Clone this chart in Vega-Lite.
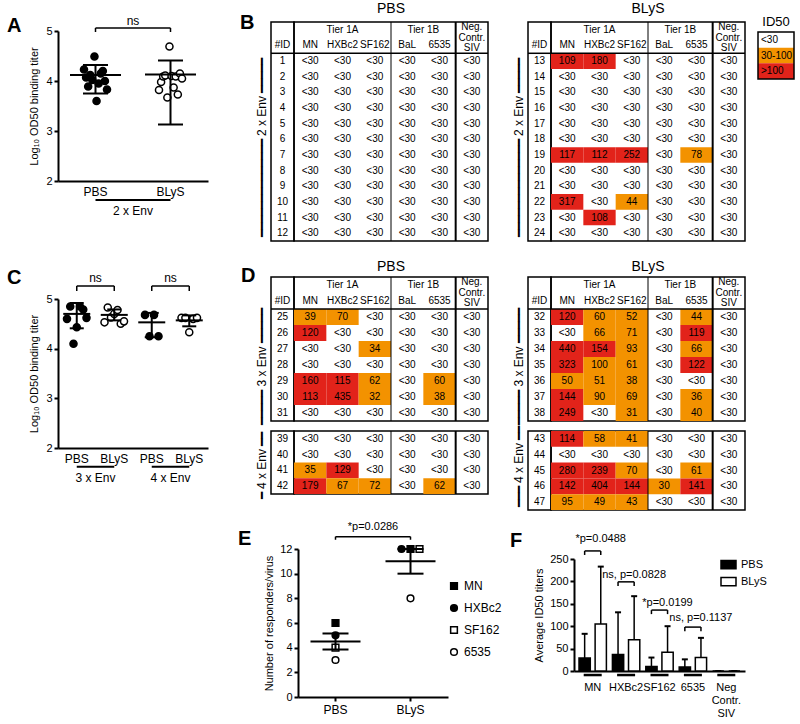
{
"$schema": "https://vega.github.io/schema/vega-lite/v6.json",
"padding": {"left": 7, "top": 1, "right": 2, "bottom": 2},
"background": "white",
"config": {
  "font": "Liberation Sans",
  "view": {"stroke": null},
  "axis": {"domainColor": "black", "domainWidth": 2, "tickColor": "black", "tickWidth": 2, "tickSize": 4, "labelColor": "black", "titleColor": "black", "titleFontWeight": "normal", "grid": false, "labelFontSize": 11, "titleFontSize": 11, "labelPadding": 2, "labelOverlap": false},
  "title": {"color": "black", "fontWeight": "normal", "fontSize": 14, "baseline": "alphabetic"},
  "legend": {"padding": 0, "labelColor": "black"}
},
"resolve": {"scale": {"fill": "independent", "shape": "independent", "xOffset": "independent", "color": "independent"}, "legend": {"fill": "independent", "shape": "independent"}},
"datasets": {
  "a": [
    {"grp":"PBS","id":"1","od":4.23},{"grp":"PBS","id":"2","od":4.07},{"grp":"PBS","id":"3","od":3.89},{"grp":"PBS","id":"4","od":4.12},{"grp":"PBS","id":"5","od":4.02},{"grp":"PBS","id":"6","od":4.49},{"grp":"PBS","id":"7","od":3.60},{"grp":"PBS","id":"8","od":3.95},{"grp":"PBS","id":"9","od":4.15},{"grp":"PBS","id":"10","od":4.20},{"grp":"PBS","id":"11","od":4.00},{"grp":"PBS","id":"12","od":3.83},
    {"grp":"BLyS","id":"13","od":3.82},{"grp":"BLyS","id":"14","od":3.98},{"grp":"BLyS","id":"15","od":4.09},{"grp":"BLyS","id":"16","od":4.11},{"grp":"BLyS","id":"17","od":3.67},{"grp":"BLyS","id":"18","od":4.69},{"grp":"BLyS","id":"19","od":4.10},{"grp":"BLyS","id":"20","od":3.87},{"grp":"BLyS","id":"21","od":4.09},{"grp":"BLyS","id":"22","od":3.73},{"grp":"BLyS","id":"23","od":4.15},{"grp":"BLyS","id":"24","od":4.05}
  ],
  "aSum": [{"grp":"PBS","mean":4.12,"lo":3.75,"hi":4.32},{"grp":"BLyS","mean":4.13,"lo":3.13,"hi":4.41}],
  "c": [
    {"grp":"3PBS","id":"25","od":4.60},{"grp":"3PBS","id":"26","od":4.85},{"grp":"3PBS","id":"27","od":4.10},{"grp":"3PBS","id":"28","od":4.43},{"grp":"3PBS","id":"29","od":4.85},{"grp":"3PBS","id":"30","od":4.79},{"grp":"3PBS","id":"31","od":4.62},
    {"grp":"3BLyS","id":"32","od":4.53},{"grp":"3BLyS","id":"33","od":4.83},{"grp":"3BLyS","id":"34","od":4.63},{"grp":"3BLyS","id":"35","od":4.70},{"grp":"3BLyS","id":"36","od":4.78},{"grp":"3BLyS","id":"37","od":4.50},{"grp":"3BLyS","id":"38","od":4.55},
    {"grp":"4PBS","id":"39","od":4.68},{"grp":"4PBS","id":"40","od":4.25},{"grp":"4PBS","id":"41","od":4.68},{"grp":"4PBS","id":"42","od":4.25},
    {"grp":"4BLyS","id":"43","od":4.62},{"grp":"4BLyS","id":"44","od":4.62},{"grp":"4BLyS","id":"45","od":4.33},{"grp":"4BLyS","id":"46","od":4.60},{"grp":"4BLyS","id":"47","od":4.62}
  ],
  "cSum": [{"grp":"3PBS","mean":4.70,"lo":4.41,"hi":4.92},{"grp":"3BLyS","mean":4.68,"lo":4.57,"hi":4.79},{"grp":"4PBS","mean":4.53,"lo":4.23,"hi":4.72},{"grp":"4BLyS","mean":4.57,"lo":4.45,"hi":4.67}],
  "hdr": [{"virus":"HXBc2","row":"h1","label":"Tier 1A"},{"virus":"MN","row":"h2","label":"MN"},{"virus":"HXBc2","row":"h2","label":"HXBc2"},{"virus":"SF162","row":"h2","label":"SF162"},{"virus":"BaL","row":"h2","label":"BaL"},{"virus":"6535","row":"h2","label":"6535"}],
  "bP": [
    {"id":"1","MN":"<30","HXBc2":"<30","SF162":"<30","BaL":"<30","6535":"<30","SIV":"<30"},
    {"id":"2","MN":"<30","HXBc2":"<30","SF162":"<30","BaL":"<30","6535":"<30","SIV":"<30"},
    {"id":"3","MN":"<30","HXBc2":"<30","SF162":"<30","BaL":"<30","6535":"<30","SIV":"<30"},
    {"id":"4","MN":"<30","HXBc2":"<30","SF162":"<30","BaL":"<30","6535":"<30","SIV":"<30"},
    {"id":"5","MN":"<30","HXBc2":"<30","SF162":"<30","BaL":"<30","6535":"<30","SIV":"<30"},
    {"id":"6","MN":"<30","HXBc2":"<30","SF162":"<30","BaL":"<30","6535":"<30","SIV":"<30"},
    {"id":"7","MN":"<30","HXBc2":"<30","SF162":"<30","BaL":"<30","6535":"<30","SIV":"<30"},
    {"id":"8","MN":"<30","HXBc2":"<30","SF162":"<30","BaL":"<30","6535":"<30","SIV":"<30"},
    {"id":"9","MN":"<30","HXBc2":"<30","SF162":"<30","BaL":"<30","6535":"<30","SIV":"<30"},
    {"id":"10","MN":"<30","HXBc2":"<30","SF162":"<30","BaL":"<30","6535":"<30","SIV":"<30"},
    {"id":"11","MN":"<30","HXBc2":"<30","SF162":"<30","BaL":"<30","6535":"<30","SIV":"<30"},
    {"id":"12","MN":"<30","HXBc2":"<30","SF162":"<30","BaL":"<30","6535":"<30","SIV":"<30"}
  ],
  "bB": [
    {"id":"13","MN":"109","HXBc2":"180","SF162":"<30","BaL":"<30","6535":"<30","SIV":"<30"},
    {"id":"14","MN":"<30","HXBc2":"<30","SF162":"<30","BaL":"<30","6535":"<30","SIV":"<30"},
    {"id":"15","MN":"<30","HXBc2":"<30","SF162":"<30","BaL":"<30","6535":"<30","SIV":"<30"},
    {"id":"16","MN":"<30","HXBc2":"<30","SF162":"<30","BaL":"<30","6535":"<30","SIV":"<30"},
    {"id":"17","MN":"<30","HXBc2":"<30","SF162":"<30","BaL":"<30","6535":"<30","SIV":"<30"},
    {"id":"18","MN":"<30","HXBc2":"<30","SF162":"<30","BaL":"<30","6535":"<30","SIV":"<30"},
    {"id":"19","MN":"117","HXBc2":"112","SF162":"252","BaL":"<30","6535":"78","SIV":"<30"},
    {"id":"20","MN":"<30","HXBc2":"<30","SF162":"<30","BaL":"<30","6535":"<30","SIV":"<30"},
    {"id":"21","MN":"<30","HXBc2":"<30","SF162":"<30","BaL":"<30","6535":"<30","SIV":"<30"},
    {"id":"22","MN":"317","HXBc2":"<30","SF162":"44","BaL":"<30","6535":"<30","SIV":"<30"},
    {"id":"23","MN":"<30","HXBc2":"108","SF162":"<30","BaL":"<30","6535":"<30","SIV":"<30"},
    {"id":"24","MN":"<30","HXBc2":"<30","SF162":"<30","BaL":"<30","6535":"<30","SIV":"<30"}
  ],
  "dP3": [
    {"id":"25","MN":"39","HXBc2":"70","SF162":"<30","BaL":"<30","6535":"<30","SIV":"<30"},
    {"id":"26","MN":"120","HXBc2":"<30","SF162":"<30","BaL":"<30","6535":"<30","SIV":"<30"},
    {"id":"27","MN":"<30","HXBc2":"<30","SF162":"34","BaL":"<30","6535":"<30","SIV":"<30"},
    {"id":"28","MN":"<30","HXBc2":"<30","SF162":"<30","BaL":"<30","6535":"<30","SIV":"<30"},
    {"id":"29","MN":"160","HXBc2":"115","SF162":"62","BaL":"<30","6535":"60","SIV":"<30"},
    {"id":"30","MN":"113","HXBc2":"435","SF162":"32","BaL":"<30","6535":"38","SIV":"<30"},
    {"id":"31","MN":"<30","HXBc2":"<30","SF162":"<30","BaL":"<30","6535":"<30","SIV":"<30"}
  ],
  "dP4": [
    {"id":"39","MN":"<30","HXBc2":"<30","SF162":"<30","BaL":"<30","6535":"<30","SIV":"<30"},
    {"id":"40","MN":"<30","HXBc2":"<30","SF162":"<30","BaL":"<30","6535":"<30","SIV":"<30"},
    {"id":"41","MN":"35","HXBc2":"129","SF162":"<30","BaL":"<30","6535":"<30","SIV":"<30"},
    {"id":"42","MN":"179","HXBc2":"67","SF162":"72","BaL":"<30","6535":"62","SIV":"<30"}
  ],
  "dB3": [
    {"id":"32","MN":"120","HXBc2":"60","SF162":"52","BaL":"<30","6535":"44","SIV":"<30"},
    {"id":"33","MN":"<30","HXBc2":"66","SF162":"71","BaL":"<30","6535":"119","SIV":"<30"},
    {"id":"34","MN":"440","HXBc2":"154","SF162":"93","BaL":"<30","6535":"66","SIV":"<30"},
    {"id":"35","MN":"323","HXBc2":"100","SF162":"61","BaL":"<30","6535":"122","SIV":"<30"},
    {"id":"36","MN":"50","HXBc2":"51","SF162":"38","BaL":"<30","6535":"<30","SIV":"<30"},
    {"id":"37","MN":"144","HXBc2":"90","SF162":"69","BaL":"<30","6535":"36","SIV":"<30"},
    {"id":"38","MN":"249","HXBc2":"<30","SF162":"31","BaL":"<30","6535":"40","SIV":"<30"}
  ],
  "dB4": [
    {"id":"43","MN":"114","HXBc2":"58","SF162":"41","BaL":"<30","6535":"<30","SIV":"<30"},
    {"id":"44","MN":"<30","HXBc2":"<30","SF162":"<30","BaL":"<30","6535":"<30","SIV":"<30"},
    {"id":"45","MN":"280","HXBc2":"239","SF162":"70","BaL":"<30","6535":"61","SIV":"<30"},
    {"id":"46","MN":"142","HXBc2":"404","SF162":"144","BaL":"30","6535":"141","SIV":"<30"},
    {"id":"47","MN":"95","HXBc2":"49","SF162":"43","BaL":"<30","6535":"<30","SIV":"<30"}
  ],
  "e": [
    {"grp":"PBS","virus":"MN","n":6},{"grp":"PBS","virus":"HXBc2","n":5},{"grp":"PBS","virus":"SF162","n":4},{"grp":"PBS","virus":"6535","n":3},
    {"grp":"BLyS","virus":"MN","n":12},{"grp":"BLyS","virus":"HXBc2","n":12},{"grp":"BLyS","virus":"SF162","n":12},{"grp":"BLyS","virus":"6535","n":8}
  ],
  "eSum": [{"grp":"PBS","mean":4.5,"lo":3.85,"hi":5.15},{"grp":"BLyS","mean":11,"lo":10,"hi":12}],
  "f": [
    {"virus":"MN","grp":"PBS","mean":29,"top":83},{"virus":"MN","grp":"BLyS","mean":105,"top":233},
    {"virus":"HXBc2","grp":"PBS","mean":37,"top":131},{"virus":"HXBc2","grp":"BLyS","mean":70,"top":167},
    {"virus":"SF162","grp":"PBS","mean":10,"top":30},{"virus":"SF162","grp":"BLyS","mean":42,"top":100},
    {"virus":"6535","grp":"PBS","mean":9,"top":26},{"virus":"6535","grp":"BLyS","mean":30,"top":74},
    {"virus":"Neg Contr. SIV","grp":"PBS","mean":0,"top":0},{"virus":"Neg Contr. SIV","grp":"BLyS","mean":0,"top":0}
  ],
  "fAnn": [
    {"virus":"MN","yb":268,"yl":259,"ty":294,"label":"*p=0.0488"},
    {"virus":"HXBc2","yb":199,"yl":190,"ty":215,"label":"ns, p=0.0828"},
    {"virus":"SF162","yb":136,"yl":127,"ty":152,"label":"*p=0.0199"},
    {"virus":"6535","yb":98,"yl":89,"ty":118,"label":"ns, p=0.1137"}
  ]
},
"columns": 9,
"spacing": 0,
"bounds": "flush",
"align": "each",
"concat": [
 {"width": 150, "height": 159,
  "title": {"text": "A", "anchor": "start", "frame": "group", "dx": -51, "offset": -21, "fontSize": 20, "fontWeight": "bold"},
  "resolve": {"scale": {"xOffset": "independent"}},
  "layer": [
    {"data": {"name": "a"}, "transform": [{"filter": "datum.grp == 'PBS'"}],
     "mark": {"type": "point", "shape": "circle", "filled": true, "fill": "black", "size": 50, "stroke": "black", "strokeWidth": 1.5, "opacity": 1},
     "encoding": {
       "x": {"field": "grp", "type": "nominal", "scale": {"domain": ["PBS","BLyS"], "paddingInner": 0, "paddingOuter": 0}, "axis": {"title": null, "labelAngle": 0, "labelFontSize": 12, "ticks": false, "labelPadding": 5}},
       "xOffset": {"field": "id", "type": "nominal", "sort": null, "scale": {"type": "point", "padding": 0, "range": [26, 49]}},
       "y": {"field": "od", "type": "quantitative", "scale": {"domain": [2, 5], "nice": false, "zero": false, "range": [159, 9]}, "axis": {"values": [2,3,4,5], "tickCount": 10, "format": "d", "title": "Log₁₀ OD50 binding titer", "titlePadding": 6}}
     }},
    {"data": {"name": "a"}, "transform": [{"filter": "datum.grp == 'BLyS'"}],
     "mark": {"type": "point", "shape": "circle", "filled": true, "fill": "white", "size": 50, "stroke": "black", "strokeWidth": 1.5, "opacity": 1},
     "encoding": {
       "x": {"field": "grp", "type": "nominal"},
       "xOffset": {"field": "id", "type": "nominal", "sort": null, "scale": {"type": "point", "padding": 0, "range": [26, 49]}},
       "y": {"field": "od", "type": "quantitative"}
     }},
    {"data": {"name": "aSum"}, "mark": {"type": "rule", "color": "black", "strokeWidth": 2}, "encoding": {"x": {"field": "grp", "type": "nominal"}, "y": {"field": "lo", "type": "quantitative"}, "y2": {"field": "hi"}}},
    {"data": {"name": "aSum"}, "mark": {"type": "tick", "color": "black", "size": 25, "thickness": 2, "opacity": 1}, "encoding": {"x": {"field": "grp", "type": "nominal"}, "y": {"field": "lo", "type": "quantitative"}}},
    {"data": {"name": "aSum"}, "mark": {"type": "tick", "color": "black", "size": 25, "thickness": 2, "opacity": 1}, "encoding": {"x": {"field": "grp", "type": "nominal"}, "y": {"field": "hi", "type": "quantitative"}}},
    {"data": {"name": "aSum"}, "mark": {"type": "tick", "color": "black", "size": 51, "thickness": 2, "opacity": 1}, "encoding": {"x": {"field": "grp", "type": "nominal"}, "y": {"field": "mean", "type": "quantitative"}}},
    {"data": {"values": [{}]}, "mark": {"type": "rule", "color": "black", "strokeWidth": 1.5}, "encoding": {"x": {"datum": "PBS", "type": "nominal"}, "x2": {"datum": "BLyS"}, "y": {"datum": 5.06, "type": "quantitative"}}},
    {"data": {"values": [{"g": "PBS"}, {"g": "BLyS"}]}, "mark": {"type": "rule", "color": "black", "strokeWidth": 1.5}, "encoding": {"x": {"field": "g", "type": "nominal"}, "y": {"datum": 5.06, "type": "quantitative"}, "y2": {"datum": 4.98}}},
    {"data": {"values": [{}]}, "mark": {"type": "text", "fontSize": 12, "color": "black"}, "encoding": {"x": {"datum": "PBS", "type": "nominal", "bandPosition": 1}, "y": {"datum": 5.2, "type": "quantitative"}, "text": {"value": "ns"}}},
    {"data": {"values": [{}]}, "mark": {"type": "rule", "color": "black", "strokeWidth": 2}, "encoding": {"x": {"datum": "PBS", "type": "nominal"}, "x2": {"datum": "BLyS"}, "y": {"datum": 1.62, "type": "quantitative"}}},
    {"data": {"values": [{}]}, "mark": {"type": "text", "fontSize": 12, "color": "black"}, "encoding": {"x": {"datum": "PBS", "type": "nominal", "bandPosition": 1}, "y": {"datum": 1.4, "type": "quantitative"}, "text": {"value": "2 x Env"}}}
  ]},
 {"width": 63, "height": 1, "data": {"values": [{}]}, "mark": {"type": "point", "opacity": 0}},
 {"width": 23, "height": 219,
  "title": {"text": "B", "anchor": "start", "frame": "group", "dx": -31, "offset": -11, "fontSize": 20, "fontWeight": "bold"},
  "view": {"stroke": "black", "strokeWidth": 1.5},
  "layer": [
    {"data": {"name": "bP"}, "mark": {"type": "text", "fontSize": 10, "color": "black"}, "encoding": {"y": {"field": "id", "type": "nominal", "scale": {"domain": ["h1","h2","1","2","3","4","5","6","7","8","9","10","11","12"], "paddingInner": 0, "paddingOuter": 0}, "axis": {"title": "━━━━━━━━━━━━━━ 2 x Env ━━━━━", "labels": false, "ticks": false, "domain": false, "titleFontSize": 12, "titlePadding": 3, "titleY": 125}}, "text": {"field": "id"}}},
    {"data": {"values": [{}]}, "mark": {"type": "text", "fontSize": 10, "color": "black"}, "encoding": {"y": {"datum": "h2", "type": "nominal"}, "text": {"value": "#ID"}}},
    {"data": {"values": [{}]}, "mark": {"type": "rule", "color": "black", "strokeWidth": 1.5}, "encoding": {"y": {"datum": "1", "type": "nominal", "bandPosition": 0}}}
  ]},
 {"width": 194, "height": 219,
  "title": {"text": "PBS", "frame": "group", "offset": 5},
  "view": {"stroke": "black", "strokeWidth": 1.5},
  "layer": [
    {"data": {"name": "bP"}, "transform": [{"fold": ["MN","HXBc2","SF162","BaL","6535","SIV"], "as": ["virus","val"]}, {"filter": "datum.val != '<30'"}], "mark": {"type": "rect", "width": {"band": 1}, "height": {"band": 1}},
     "encoding": {"x": {"field": "virus", "type": "nominal", "scale": {"type": "band", "domain": ["MN","HXBc2","SF162","BaL","6535","SIV"], "paddingInner": 0, "paddingOuter": 0}, "axis": null}, "y": {"field": "id", "type": "nominal", "scale": {"type": "band", "domain": ["h1","h2","1","2","3","4","5","6","7","8","9","10","11","12"], "paddingInner": 0, "paddingOuter": 0}, "axis": null}, "fill": {"condition": {"test": "toNumber(datum.val) > 100", "value": "#E2231A"}, "value": "#F39200"}}},
    {"data": {"name": "bP"}, "transform": [{"fold": ["MN","HXBc2","SF162","BaL","6535","SIV"], "as": ["virus","val"]}], "mark": {"type": "text", "fontSize": 10, "color": "black"},
     "encoding": {"x": {"field": "virus", "type": "nominal", "axis": null}, "y": {"field": "id", "type": "nominal", "axis": null}, "text": {"field": "val"}}},
    {"data": {"name": "hdr"}, "mark": {"type": "text", "fontSize": 10, "color": "black"}, "encoding": {"x": {"field": "virus", "type": "nominal", "axis": null}, "y": {"field": "row", "type": "nominal", "axis": null}, "text": {"field": "label"}}},
    {"data": {"values": [{}]}, "mark": {"type": "text", "fontSize": 10, "color": "black"}, "encoding": {"x": {"datum": "BaL", "type": "nominal", "bandPosition": 1, "axis": null}, "y": {"datum": "h1", "type": "nominal", "axis": null}, "text": {"value": "Tier 1B"}}},
    {"data": {"values": [{}]}, "mark": {"type": "text", "fontSize": 10, "color": "black", "lineHeight": 10.5, "baseline": "top", "dy": 0}, "encoding": {"x": {"datum": "SIV", "type": "nominal", "axis": null}, "y": {"datum": "h1", "type": "nominal", "bandPosition": 0, "axis": null}, "text": {"value": ["Neg.", "Contr.", "SIV"]}}},
    {"data": {"values": [{}]}, "mark": {"type": "rule", "color": "black", "strokeWidth": 1}, "encoding": {"x": {"datum": "BaL", "type": "nominal", "bandPosition": 0, "axis": null}}},
    {"data": {"values": [{}]}, "mark": {"type": "rule", "color": "black", "strokeWidth": 2}, "encoding": {"x": {"datum": "SIV", "type": "nominal", "bandPosition": 0, "axis": null}}},
    {"data": {"values": [{}]}, "mark": {"type": "rule", "color": "black", "strokeWidth": 1.5}, "encoding": {"y": {"datum": "1", "type": "nominal", "bandPosition": 0, "axis": null}}}
  ]},
 {"width": 40, "height": 1, "data": {"values": [{}]}, "mark": {"type": "point", "opacity": 0}},
 {"width": 23, "height": 219,
  "view": {"stroke": "black", "strokeWidth": 1.5},
  "layer": [
    {"data": {"name": "bB"}, "mark": {"type": "text", "fontSize": 10, "color": "black"}, "encoding": {"y": {"field": "id", "type": "nominal", "scale": {"domain": ["h1","h2","13","14","15","16","17","18","19","20","21","22","23","24"], "paddingInner": 0, "paddingOuter": 0}, "axis": {"title": "━━━━━━━━━━━━━━ 2 x Env ━━━━━", "labels": false, "ticks": false, "domain": false, "titleFontSize": 12, "titlePadding": 3, "titleY": 125}}, "text": {"field": "id"}}},
    {"data": {"values": [{}]}, "mark": {"type": "text", "fontSize": 10, "color": "black"}, "encoding": {"y": {"datum": "h2", "type": "nominal"}, "text": {"value": "#ID"}}},
    {"data": {"values": [{}]}, "mark": {"type": "rule", "color": "black", "strokeWidth": 1.5}, "encoding": {"y": {"datum": "13", "type": "nominal", "bandPosition": 0}}}
  ]},
 {"width": 194, "height": 219,
  "title": {"text": "BLyS", "frame": "group", "offset": 5},
  "view": {"stroke": "black", "strokeWidth": 1.5},
  "layer": [
    {"data": {"name": "bB"}, "transform": [{"fold": ["MN","HXBc2","SF162","BaL","6535","SIV"], "as": ["virus","val"]}, {"filter": "datum.val != '<30'"}], "mark": {"type": "rect", "width": {"band": 1}, "height": {"band": 1}},
     "encoding": {"x": {"field": "virus", "type": "nominal", "scale": {"type": "band", "domain": ["MN","HXBc2","SF162","BaL","6535","SIV"], "paddingInner": 0, "paddingOuter": 0}, "axis": null}, "y": {"field": "id", "type": "nominal", "scale": {"type": "band", "domain": ["h1","h2","13","14","15","16","17","18","19","20","21","22","23","24"], "paddingInner": 0, "paddingOuter": 0}, "axis": null}, "fill": {"condition": {"test": "toNumber(datum.val) > 100", "value": "#E2231A"}, "value": "#F39200"}}},
    {"data": {"name": "bB"}, "transform": [{"fold": ["MN","HXBc2","SF162","BaL","6535","SIV"], "as": ["virus","val"]}], "mark": {"type": "text", "fontSize": 10, "color": "black"},
     "encoding": {"x": {"field": "virus", "type": "nominal", "axis": null}, "y": {"field": "id", "type": "nominal", "axis": null}, "text": {"field": "val"}}},
    {"data": {"name": "hdr"}, "mark": {"type": "text", "fontSize": 10, "color": "black"}, "encoding": {"x": {"field": "virus", "type": "nominal", "axis": null}, "y": {"field": "row", "type": "nominal", "axis": null}, "text": {"field": "label"}}},
    {"data": {"values": [{}]}, "mark": {"type": "text", "fontSize": 10, "color": "black"}, "encoding": {"x": {"datum": "BaL", "type": "nominal", "bandPosition": 1, "axis": null}, "y": {"datum": "h1", "type": "nominal", "axis": null}, "text": {"value": "Tier 1B"}}},
    {"data": {"values": [{}]}, "mark": {"type": "text", "fontSize": 10, "color": "black", "lineHeight": 10.5, "baseline": "top", "dy": 0}, "encoding": {"x": {"datum": "SIV", "type": "nominal", "axis": null}, "y": {"datum": "h1", "type": "nominal", "bandPosition": 0, "axis": null}, "text": {"value": ["Neg.", "Contr.", "SIV"]}}},
    {"data": {"values": [{}]}, "mark": {"type": "rule", "color": "black", "strokeWidth": 1}, "encoding": {"x": {"datum": "BaL", "type": "nominal", "bandPosition": 0, "axis": null}}},
    {"data": {"values": [{}]}, "mark": {"type": "rule", "color": "black", "strokeWidth": 2}, "encoding": {"x": {"datum": "SIV", "type": "nominal", "bandPosition": 0, "axis": null}}},
    {"data": {"values": [{}]}, "mark": {"type": "rule", "color": "black", "strokeWidth": 1.5}, "encoding": {"y": {"datum": "13", "type": "nominal", "bandPosition": 0, "axis": null}}}
  ]},
 {"width": 13, "height": 1, "data": {"values": [{}]}, "mark": {"type": "point", "opacity": 0}},
 {"width": 36, "height": 57,
  "title": {"text": "ID50", "frame": "group", "fontSize": 13, "offset": -7},
  "data": {"values": [{"cat": "<30"}, {"cat": "30-100"}, {"cat": ">100"}]},
  "layer": [
    {"mark": {"type": "rect"}, "encoding": {"y": {"field": "cat", "type": "nominal", "scale": {"domain": ["<30","30-100",">100"], "paddingInner": 0, "paddingOuter": 0.32, "align": 1}, "axis": null}, "fill": {"field": "cat", "type": "nominal", "scale": {"domain": ["<30","30-100",">100"], "range": ["white","#F39200","#E2231A"]}, "legend": null}}},
    {"mark": {"type": "text", "fontSize": 10, "color": "black", "align": "left", "dx": -15}, "encoding": {"y": {"field": "cat", "type": "nominal", "axis": null}, "text": {"field": "cat"}}},
    {"data": {"values": [{}]}, "mark": {"type": "rect", "fill": null, "filled": false, "stroke": "black", "strokeWidth": 1.5}, "encoding": {"y": {"datum": "<30", "type": "nominal", "bandPosition": 0, "axis": null}, "y2": {"datum": ">100", "bandPosition": 1}}}
  ]},

 {"width": 150, "height": 36, "data": {"values": [{}]}, "mark": {"type": "point", "opacity": 0}},
 {"width": 63, "height": 1, "data": {"values": [{}]}, "mark": {"type": "point", "opacity": 0}},
 {"width": 23, "height": 1, "data": {"values": [{}]}, "mark": {"type": "point", "opacity": 0}},
 {"width": 194, "height": 1, "data": {"values": [{}]}, "mark": {"type": "point", "opacity": 0}},
 {"width": 40, "height": 1, "data": {"values": [{}]}, "mark": {"type": "point", "opacity": 0}},
 {"width": 23, "height": 1, "data": {"values": [{}]}, "mark": {"type": "point", "opacity": 0}},
 {"width": 194, "height": 1, "data": {"values": [{}]}, "mark": {"type": "point", "opacity": 0}},
 {"width": 13, "height": 1, "data": {"values": [{}]}, "mark": {"type": "point", "opacity": 0}},
 {"width": 36, "height": 1, "data": {"values": [{}]}, "mark": {"type": "point", "opacity": 0}},

 {"width": 150, "height": 144,
  "title": {"text": "C", "anchor": "start", "frame": "group", "dx": -51, "offset": -16, "fontSize": 20, "fontWeight": "bold"},
  "resolve": {"scale": {"xOffset": "independent"}},
  "layer": [
    {"data": {"name": "c"}, "transform": [{"filter": "datum.grp == '3PBS'"}],
     "mark": {"type": "point", "shape": "circle", "filled": true, "fill": "black", "size": 50, "stroke": "black", "strokeWidth": 1.5, "opacity": 1},
     "encoding": {
       "x": {"field": "grp", "type": "nominal", "scale": {"domain": ["3PBS","3BLyS","4PBS","4BLyS"], "paddingInner": 0, "paddingOuter": 0}, "axis": {"title": null, "labelAngle": 0, "labelFontSize": 12, "ticks": false, "labelPadding": 5, "offset": 27, "labelExpr": "substring(datum.value, 1)"}},
       "xOffset": {"field": "id", "type": "nominal", "sort": null, "scale": {"type": "point", "padding": 0, "range": [9, 28.5]}},
       "y": {"field": "od", "type": "quantitative", "scale": {"domain": [2, 5], "nice": false, "zero": false, "range": [171, 22]}, "axis": {"values": [2,3,4,5], "tickCount": 10, "format": "d", "title": "Log₁₀ OD50 binding titer", "titlePadding": 6}}
     }},
    {"data": {"name": "c"}, "transform": [{"filter": "datum.grp == '3BLyS'"}],
     "mark": {"type": "point", "shape": "circle", "filled": true, "fill": "white", "size": 50, "stroke": "black", "strokeWidth": 1.5, "opacity": 1},
     "encoding": {"x": {"field": "grp", "type": "nominal"}, "xOffset": {"field": "id", "type": "nominal", "sort": null, "scale": {"type": "point", "padding": 0, "range": [9, 28.5]}}, "y": {"field": "od", "type": "quantitative"}}},
    {"data": {"name": "c"}, "transform": [{"filter": "datum.grp == '4PBS'"}],
     "mark": {"type": "point", "shape": "circle", "filled": true, "fill": "black", "size": 50, "stroke": "black", "strokeWidth": 1.5, "opacity": 1},
     "encoding": {"x": {"field": "grp", "type": "nominal"}, "xOffset": {"field": "id", "type": "nominal", "sort": null, "scale": {"type": "point", "padding": 0, "range": [12, 25.5]}}, "y": {"field": "od", "type": "quantitative"}}},
    {"data": {"name": "c"}, "transform": [{"filter": "datum.grp == '4BLyS'"}],
     "mark": {"type": "point", "shape": "circle", "filled": true, "fill": "white", "size": 50, "stroke": "black", "strokeWidth": 1.5, "opacity": 1},
     "encoding": {"x": {"field": "grp", "type": "nominal"}, "xOffset": {"field": "id", "type": "nominal", "sort": null, "scale": {"type": "point", "padding": 0, "range": [11, 26.5]}}, "y": {"field": "od", "type": "quantitative"}}},
    {"data": {"name": "cSum"}, "mark": {"type": "rule", "color": "black", "strokeWidth": 2}, "encoding": {"x": {"field": "grp", "type": "nominal"}, "y": {"field": "lo", "type": "quantitative"}, "y2": {"field": "hi"}}},
    {"data": {"name": "cSum"}, "mark": {"type": "tick", "color": "black", "size": 14, "thickness": 2, "opacity": 1}, "encoding": {"x": {"field": "grp", "type": "nominal"}, "y": {"field": "lo", "type": "quantitative"}}},
    {"data": {"name": "cSum"}, "mark": {"type": "tick", "color": "black", "size": 14, "thickness": 2, "opacity": 1}, "encoding": {"x": {"field": "grp", "type": "nominal"}, "y": {"field": "hi", "type": "quantitative"}}},
    {"data": {"name": "cSum"}, "mark": {"type": "tick", "color": "black", "size": 27, "thickness": 2, "opacity": 1}, "encoding": {"x": {"field": "grp", "type": "nominal"}, "y": {"field": "mean", "type": "quantitative"}}},
    {"data": {"values": [{"a": "3PBS", "b": "3BLyS"}, {"a": "4PBS", "b": "4BLyS"}]}, "mark": {"type": "rule", "color": "black", "strokeWidth": 1.5}, "encoding": {"x": {"field": "a", "type": "nominal"}, "x2": {"field": "b"}, "y": {"datum": 5.26, "type": "quantitative"}}},
    {"data": {"values": [{"g": "3PBS"}, {"g": "3BLyS"}, {"g": "4PBS"}, {"g": "4BLyS"}]}, "mark": {"type": "rule", "color": "black", "strokeWidth": 1.5}, "encoding": {"x": {"field": "g", "type": "nominal"}, "y": {"datum": 5.26, "type": "quantitative"}, "y2": {"datum": 5.16}}},
    {"data": {"values": [{"a": "3PBS"}, {"a": "4PBS"}]}, "mark": {"type": "text", "fontSize": 12, "color": "black"}, "encoding": {"x": {"field": "a", "type": "nominal", "bandPosition": 1}, "y": {"datum": 5.42, "type": "quantitative"}, "text": {"value": "ns"}}},
    {"data": {"values": [{"a": "3PBS", "b": "3BLyS"}, {"a": "4PBS", "b": "4BLyS"}]}, "mark": {"type": "rule", "color": "black", "strokeWidth": 2}, "encoding": {"x": {"field": "a", "type": "nominal"}, "x2": {"field": "b"}, "y": {"datum": 1.62, "type": "quantitative"}}},
    {"data": {"values": [{"a": "3PBS", "t": "3 x Env"}, {"a": "4PBS", "t": "4 x Env"}]}, "mark": {"type": "text", "fontSize": 12, "color": "black"}, "encoding": {"x": {"field": "a", "type": "nominal", "bandPosition": 1}, "y": {"datum": 1.4, "type": "quantitative"}, "text": {"field": "t"}}}
  ]},
 {"width": 63, "height": 1, "data": {"values": [{}]}, "mark": {"type": "point", "opacity": 0}},
 {"width": 23, "height": 144,
  "title": {"text": "D", "anchor": "start", "frame": "group", "dx": -30, "offset": -9, "fontSize": 20, "fontWeight": "bold"},
  "view": {"stroke": "black", "strokeWidth": 1.5},
  "layer": [
    {"data": {"name": "dP3"}, "mark": {"type": "text", "fontSize": 10, "color": "black"}, "encoding": {"y": {"field": "id", "type": "nominal", "scale": {"domain": ["h1","h2","25","26","27","28","29","30","31"], "paddingInner": 0, "paddingOuter": 0}, "axis": {"title": "━━━━━ 3 x Env ━━━━━", "labels": false, "ticks": false, "domain": false, "titleFontSize": 12, "titlePadding": 3, "titleY": 89}}, "text": {"field": "id"}}},
    {"data": {"values": [{}]}, "mark": {"type": "text", "fontSize": 10, "color": "black"}, "encoding": {"y": {"datum": "h2", "type": "nominal"}, "text": {"value": "#ID"}}},
    {"data": {"values": [{}]}, "mark": {"type": "rule", "color": "black", "strokeWidth": 1.5}, "encoding": {"y": {"datum": "25", "type": "nominal", "bandPosition": 0}}}
  ]},
 {"width": 194, "height": 144,
  "title": {"text": "PBS", "frame": "group", "offset": 2},
  "view": {"stroke": "black", "strokeWidth": 1.5},
  "layer": [
    {"data": {"name": "dP3"}, "transform": [{"fold": ["MN","HXBc2","SF162","BaL","6535","SIV"], "as": ["virus","val"]}, {"filter": "datum.val != '<30'"}], "mark": {"type": "rect", "width": {"band": 1}, "height": {"band": 1}},
     "encoding": {"x": {"field": "virus", "type": "nominal", "scale": {"type": "band", "domain": ["MN","HXBc2","SF162","BaL","6535","SIV"], "paddingInner": 0, "paddingOuter": 0}, "axis": null}, "y": {"field": "id", "type": "nominal", "scale": {"type": "band", "domain": ["h1","h2","25","26","27","28","29","30","31"], "paddingInner": 0, "paddingOuter": 0}, "axis": null}, "fill": {"condition": {"test": "toNumber(datum.val) > 100", "value": "#E2231A"}, "value": "#F39200"}}},
    {"data": {"name": "dP3"}, "transform": [{"fold": ["MN","HXBc2","SF162","BaL","6535","SIV"], "as": ["virus","val"]}], "mark": {"type": "text", "fontSize": 10, "color": "black"},
     "encoding": {"x": {"field": "virus", "type": "nominal", "axis": null}, "y": {"field": "id", "type": "nominal", "axis": null}, "text": {"field": "val"}}},
    {"data": {"name": "hdr"}, "mark": {"type": "text", "fontSize": 10, "color": "black"}, "encoding": {"x": {"field": "virus", "type": "nominal", "axis": null}, "y": {"field": "row", "type": "nominal", "axis": null}, "text": {"field": "label"}}},
    {"data": {"values": [{}]}, "mark": {"type": "text", "fontSize": 10, "color": "black"}, "encoding": {"x": {"datum": "BaL", "type": "nominal", "bandPosition": 1, "axis": null}, "y": {"datum": "h1", "type": "nominal", "axis": null}, "text": {"value": "Tier 1B"}}},
    {"data": {"values": [{}]}, "mark": {"type": "text", "fontSize": 10, "color": "black", "lineHeight": 10.5, "baseline": "top", "dy": 0}, "encoding": {"x": {"datum": "SIV", "type": "nominal", "axis": null}, "y": {"datum": "h1", "type": "nominal", "bandPosition": 0, "axis": null}, "text": {"value": ["Neg.", "Contr.", "SIV"]}}},
    {"data": {"values": [{}]}, "mark": {"type": "rule", "color": "black", "strokeWidth": 1}, "encoding": {"x": {"datum": "BaL", "type": "nominal", "bandPosition": 0, "axis": null}}},
    {"data": {"values": [{}]}, "mark": {"type": "rule", "color": "black", "strokeWidth": 2}, "encoding": {"x": {"datum": "SIV", "type": "nominal", "bandPosition": 0, "axis": null}}},
    {"data": {"values": [{}]}, "mark": {"type": "rule", "color": "black", "strokeWidth": 1.5}, "encoding": {"y": {"datum": "25", "type": "nominal", "bandPosition": 0, "axis": null}}}
  ]},
 {"width": 40, "height": 1, "data": {"values": [{}]}, "mark": {"type": "point", "opacity": 0}},
 {"width": 23, "height": 144,
  "view": {"stroke": "black", "strokeWidth": 1.5},
  "layer": [
    {"data": {"name": "dB3"}, "mark": {"type": "text", "fontSize": 10, "color": "black"}, "encoding": {"y": {"field": "id", "type": "nominal", "scale": {"domain": ["h1","h2","32","33","34","35","36","37","38"], "paddingInner": 0, "paddingOuter": 0}, "axis": {"title": "━━━━━ 3 x Env ━━━━━", "labels": false, "ticks": false, "domain": false, "titleFontSize": 12, "titlePadding": 3, "titleY": 89}}, "text": {"field": "id"}}},
    {"data": {"values": [{}]}, "mark": {"type": "text", "fontSize": 10, "color": "black"}, "encoding": {"y": {"datum": "h2", "type": "nominal"}, "text": {"value": "#ID"}}},
    {"data": {"values": [{}]}, "mark": {"type": "rule", "color": "black", "strokeWidth": 1.5}, "encoding": {"y": {"datum": "32", "type": "nominal", "bandPosition": 0}}}
  ]},
 {"width": 194, "height": 144,
  "title": {"text": "BLyS", "frame": "group", "offset": 2},
  "view": {"stroke": "black", "strokeWidth": 1.5},
  "layer": [
    {"data": {"name": "dB3"}, "transform": [{"fold": ["MN","HXBc2","SF162","BaL","6535","SIV"], "as": ["virus","val"]}, {"filter": "datum.val != '<30'"}], "mark": {"type": "rect", "width": {"band": 1}, "height": {"band": 1}},
     "encoding": {"x": {"field": "virus", "type": "nominal", "scale": {"type": "band", "domain": ["MN","HXBc2","SF162","BaL","6535","SIV"], "paddingInner": 0, "paddingOuter": 0}, "axis": null}, "y": {"field": "id", "type": "nominal", "scale": {"type": "band", "domain": ["h1","h2","32","33","34","35","36","37","38"], "paddingInner": 0, "paddingOuter": 0}, "axis": null}, "fill": {"condition": {"test": "toNumber(datum.val) > 100", "value": "#E2231A"}, "value": "#F39200"}}},
    {"data": {"name": "dB3"}, "transform": [{"fold": ["MN","HXBc2","SF162","BaL","6535","SIV"], "as": ["virus","val"]}], "mark": {"type": "text", "fontSize": 10, "color": "black"},
     "encoding": {"x": {"field": "virus", "type": "nominal", "axis": null}, "y": {"field": "id", "type": "nominal", "axis": null}, "text": {"field": "val"}}},
    {"data": {"name": "hdr"}, "mark": {"type": "text", "fontSize": 10, "color": "black"}, "encoding": {"x": {"field": "virus", "type": "nominal", "axis": null}, "y": {"field": "row", "type": "nominal", "axis": null}, "text": {"field": "label"}}},
    {"data": {"values": [{}]}, "mark": {"type": "text", "fontSize": 10, "color": "black"}, "encoding": {"x": {"datum": "BaL", "type": "nominal", "bandPosition": 1, "axis": null}, "y": {"datum": "h1", "type": "nominal", "axis": null}, "text": {"value": "Tier 1B"}}},
    {"data": {"values": [{}]}, "mark": {"type": "text", "fontSize": 10, "color": "black", "lineHeight": 10.5, "baseline": "top", "dy": 0}, "encoding": {"x": {"datum": "SIV", "type": "nominal", "axis": null}, "y": {"datum": "h1", "type": "nominal", "bandPosition": 0, "axis": null}, "text": {"value": ["Neg.", "Contr.", "SIV"]}}},
    {"data": {"values": [{}]}, "mark": {"type": "rule", "color": "black", "strokeWidth": 1}, "encoding": {"x": {"datum": "BaL", "type": "nominal", "bandPosition": 0, "axis": null}}},
    {"data": {"values": [{}]}, "mark": {"type": "rule", "color": "black", "strokeWidth": 2}, "encoding": {"x": {"datum": "SIV", "type": "nominal", "bandPosition": 0, "axis": null}}},
    {"data": {"values": [{}]}, "mark": {"type": "rule", "color": "black", "strokeWidth": 1.5}, "encoding": {"y": {"datum": "32", "type": "nominal", "bandPosition": 0, "axis": null}}}
  ]},
 {"width": 13, "height": 1, "data": {"values": [{}]}, "mark": {"type": "point", "opacity": 0}},
 {"width": 36, "height": 1, "data": {"values": [{}]}, "mark": {"type": "point", "opacity": 0}},

 {"width": 150, "height": 10, "data": {"values": [{}]}, "mark": {"type": "point", "opacity": 0}},
 {"width": 63, "height": 1, "data": {"values": [{}]}, "mark": {"type": "point", "opacity": 0}},
 {"width": 23, "height": 1, "data": {"values": [{}]}, "mark": {"type": "point", "opacity": 0}},
 {"width": 194, "height": 1, "data": {"values": [{}]}, "mark": {"type": "point", "opacity": 0}},
 {"width": 40, "height": 1, "data": {"values": [{}]}, "mark": {"type": "point", "opacity": 0}},
 {"width": 23, "height": 1, "data": {"values": [{}]}, "mark": {"type": "point", "opacity": 0}},
 {"width": 194, "height": 1, "data": {"values": [{}]}, "mark": {"type": "point", "opacity": 0}},
 {"width": 13, "height": 1, "data": {"values": [{}]}, "mark": {"type": "point", "opacity": 0}},
 {"width": 36, "height": 1, "data": {"values": [{}]}, "mark": {"type": "point", "opacity": 0}},

 {"width": 150, "height": 1, "data": {"values": [{}]}, "mark": {"type": "point", "opacity": 0}},
 {"width": 63, "height": 1, "data": {"values": [{}]}, "mark": {"type": "point", "opacity": 0}},
 {"width": 23, "height": 63,
  "view": {"stroke": "black", "strokeWidth": 1.5},
  "layer": [
    {"data": {"name": "dP4"}, "mark": {"type": "text", "fontSize": 10, "color": "black"}, "encoding": {"y": {"field": "id", "type": "nominal", "scale": {"domain": ["39","40","41","42"], "paddingInner": 0, "paddingOuter": 0}, "axis": {"title": "━ 4 x Env ━━", "labels": false, "ticks": false, "domain": false, "titleFontSize": 12, "titlePadding": 3, "titleY": 34}}, "text": {"field": "id"}}}
  ]},
 {"width": 194, "height": 63,
  "view": {"stroke": "black", "strokeWidth": 1.5},
  "layer": [
    {"data": {"name": "dP4"}, "transform": [{"fold": ["MN","HXBc2","SF162","BaL","6535","SIV"], "as": ["virus","val"]}, {"filter": "datum.val != '<30'"}], "mark": {"type": "rect", "width": {"band": 1}, "height": {"band": 1}},
     "encoding": {"x": {"field": "virus", "type": "nominal", "scale": {"type": "band", "domain": ["MN","HXBc2","SF162","BaL","6535","SIV"], "paddingInner": 0, "paddingOuter": 0}, "axis": null}, "y": {"field": "id", "type": "nominal", "scale": {"type": "band", "domain": ["39","40","41","42"], "paddingInner": 0, "paddingOuter": 0}, "axis": null}, "fill": {"condition": {"test": "toNumber(datum.val) > 100", "value": "#E2231A"}, "value": "#F39200"}}},
    {"data": {"name": "dP4"}, "transform": [{"fold": ["MN","HXBc2","SF162","BaL","6535","SIV"], "as": ["virus","val"]}], "mark": {"type": "text", "fontSize": 10, "color": "black"},
     "encoding": {"x": {"field": "virus", "type": "nominal", "axis": null}, "y": {"field": "id", "type": "nominal", "axis": null}, "text": {"field": "val"}}},
    {"data": {"values": [{}]}, "mark": {"type": "rule", "color": "black", "strokeWidth": 1}, "encoding": {"x": {"datum": "BaL", "type": "nominal", "bandPosition": 0, "axis": null}}},
    {"data": {"values": [{}]}, "mark": {"type": "rule", "color": "black", "strokeWidth": 2}, "encoding": {"x": {"datum": "SIV", "type": "nominal", "bandPosition": 0, "axis": null}}}
  ]},
 {"width": 40, "height": 1, "data": {"values": [{}]}, "mark": {"type": "point", "opacity": 0}},
 {"width": 23, "height": 79,
  "view": {"stroke": "black", "strokeWidth": 1.5},
  "layer": [
    {"data": {"name": "dB4"}, "mark": {"type": "text", "fontSize": 10, "color": "black"}, "encoding": {"y": {"field": "id", "type": "nominal", "scale": {"domain": ["43","44","45","46","47"], "paddingInner": 0, "paddingOuter": 0}, "axis": {"title": "━━━ 4 x Env ━━", "labels": false, "ticks": false, "domain": false, "titleFontSize": 12, "titlePadding": 3, "titleY": 35}}, "text": {"field": "id"}}}
  ]},
 {"width": 194, "height": 79,
  "view": {"stroke": "black", "strokeWidth": 1.5},
  "layer": [
    {"data": {"name": "dB4"}, "transform": [{"fold": ["MN","HXBc2","SF162","BaL","6535","SIV"], "as": ["virus","val"]}, {"filter": "datum.val != '<30'"}], "mark": {"type": "rect", "width": {"band": 1}, "height": {"band": 1}},
     "encoding": {"x": {"field": "virus", "type": "nominal", "scale": {"type": "band", "domain": ["MN","HXBc2","SF162","BaL","6535","SIV"], "paddingInner": 0, "paddingOuter": 0}, "axis": null}, "y": {"field": "id", "type": "nominal", "scale": {"type": "band", "domain": ["43","44","45","46","47"], "paddingInner": 0, "paddingOuter": 0}, "axis": null}, "fill": {"condition": {"test": "toNumber(datum.val) > 100", "value": "#E2231A"}, "value": "#F39200"}}},
    {"data": {"name": "dB4"}, "transform": [{"fold": ["MN","HXBc2","SF162","BaL","6535","SIV"], "as": ["virus","val"]}], "mark": {"type": "text", "fontSize": 10, "color": "black"},
     "encoding": {"x": {"field": "virus", "type": "nominal", "axis": null}, "y": {"field": "id", "type": "nominal", "axis": null}, "text": {"field": "val"}}},
    {"data": {"values": [{}]}, "mark": {"type": "rule", "color": "black", "strokeWidth": 1}, "encoding": {"x": {"datum": "BaL", "type": "nominal", "bandPosition": 0, "axis": null}}},
    {"data": {"values": [{}]}, "mark": {"type": "rule", "color": "black", "strokeWidth": 2}, "encoding": {"x": {"datum": "SIV", "type": "nominal", "bandPosition": 0, "axis": null}}}
  ]},
 {"width": 13, "height": 1, "data": {"values": [{}]}, "mark": {"type": "point", "opacity": 0}},
 {"width": 36, "height": 1, "data": {"values": [{}]}, "mark": {"type": "point", "opacity": 0}},

 {"width": 150, "height": 39, "data": {"values": [{}]}, "mark": {"type": "point", "opacity": 0}},
 {"width": 63, "height": 1, "data": {"values": [{}]}, "mark": {"type": "point", "opacity": 0}},
 {"width": 23, "height": 1, "data": {"values": [{}]}, "mark": {"type": "point", "opacity": 0}},
 {"width": 194, "height": 1, "data": {"values": [{}]}, "mark": {"type": "point", "opacity": 0}},
 {"width": 40, "height": 1, "data": {"values": [{}]}, "mark": {"type": "point", "opacity": 0}},
 {"width": 23, "height": 1, "data": {"values": [{}]}, "mark": {"type": "point", "opacity": 0}},
 {"width": 194, "height": 1, "data": {"values": [{}]}, "mark": {"type": "point", "opacity": 0}},
 {"width": 13, "height": 1, "data": {"values": [{}]}, "mark": {"type": "point", "opacity": 0}},
 {"width": 36, "height": 1, "data": {"values": [{}]}, "mark": {"type": "point", "opacity": 0}},

 {"width": 150, "height": 1, "data": {"values": [{}]}, "mark": {"type": "point", "opacity": 0}},
 {"width": 63, "height": 1, "data": {"values": [{}]}, "mark": {"type": "point", "opacity": 0}},
 {"width": 23, "height": 1, "data": {"values": [{}]}, "mark": {"type": "point", "opacity": 0}},
 {"width": 154, "height": 148,
  "title": {"text": "E", "anchor": "start", "frame": "group", "dx": -56, "offset": -28, "fontSize": 20, "fontWeight": "bold"},
  "layer": [
    {"data": {"name": "e"}, "transform": [{"filter": "datum.grp == 'PBS' || datum.virus == '6535'"}],
     "mark": {"type": "point", "filled": true, "size": 45, "stroke": "black", "strokeWidth": 1.5, "opacity": 1},
     "encoding": {
       "x": {"field": "grp", "type": "nominal", "scale": {"domain": ["PBS","BLyS"], "paddingInner": 0, "paddingOuter": 0, "range": [4, 154]}, "axis": {"title": null, "labelAngle": 0, "labelFontSize": 12, "labelPadding": 3}},
       "y": {"field": "n", "type": "quantitative", "scale": {"domain": [0, 12], "nice": false}, "axis": {"values": [0,2,4,6,8,10,12], "tickCount": 20, "format": "d", "title": "Number of responders/virus", "titlePadding": 5, "offset": -4, "labelOverlap": false, "labelBound": false}},
       "shape": {"field": "virus", "type": "nominal", "scale": {"domain": ["MN","HXBc2","SF162","6535"], "range": ["square","circle","square","circle"]}, "legend": {"title": null, "orient": "none", "legendX": 154, "legendY": 31, "labelFontSize": 12, "rowPadding": 8, "symbolSize": 45, "encode": {"symbols": {"update": {"stroke": {"value": "black"}, "strokeWidth": {"value": 1.5}}}}}},
       "fill": {"field": "virus", "type": "nominal", "scale": {"domain": ["MN","HXBc2","SF162","6535"], "range": ["black","black","white","white"]}, "legend": {"title": null, "orient": "none", "legendX": 154, "legendY": 31, "labelFontSize": 12, "rowPadding": 8, "symbolSize": 45, "encode": {"symbols": {"update": {"stroke": {"value": "black"}, "strokeWidth": {"value": 1.5}}}}}}
     }},
    {"data": {"name": "e"}, "transform": [{"filter": "datum.grp == 'BLyS' && datum.virus != '6535'"}],
     "mark": {"type": "point", "filled": true, "size": 45, "stroke": "black", "strokeWidth": 1.5, "opacity": 1},
     "encoding": {
       "x": {"field": "grp", "type": "nominal"},
       "xOffset": {"field": "virus", "type": "nominal", "scale": {"type": "point", "domain": ["HXBc2","MN","SF162"], "padding": 0, "range": [28.5, 46.5]}},
       "y": {"field": "n", "type": "quantitative"},
       "shape": {"field": "virus", "type": "nominal"},
       "fill": {"field": "virus", "type": "nominal"}
     }},
    {"data": {"name": "eSum"}, "mark": {"type": "rule", "color": "black", "strokeWidth": 2}, "encoding": {"x": {"field": "grp", "type": "nominal"}, "y": {"field": "lo", "type": "quantitative"}, "y2": {"field": "hi"}}},
    {"data": {"name": "eSum"}, "mark": {"type": "tick", "color": "black", "size": 26, "thickness": 2, "opacity": 1}, "encoding": {"x": {"field": "grp", "type": "nominal"}, "y": {"field": "lo", "type": "quantitative"}}},
    {"data": {"name": "eSum"}, "mark": {"type": "tick", "color": "black", "size": 26, "thickness": 2, "opacity": 1}, "encoding": {"x": {"field": "grp", "type": "nominal"}, "y": {"field": "hi", "type": "quantitative"}}},
    {"data": {"name": "eSum"}, "mark": {"type": "tick", "color": "black", "size": 50, "thickness": 2, "opacity": 1}, "encoding": {"x": {"field": "grp", "type": "nominal"}, "y": {"field": "mean", "type": "quantitative"}}},
    {"data": {"values": [{}]}, "mark": {"type": "rule", "color": "black", "strokeWidth": 1.5}, "encoding": {"x": {"datum": "PBS", "type": "nominal"}, "x2": {"datum": "BLyS"}, "y": {"datum": 13.0, "type": "quantitative"}}},
    {"data": {"values": [{"g": "PBS"}, {"g": "BLyS"}]}, "mark": {"type": "rule", "color": "black", "strokeWidth": 1.5}, "encoding": {"x": {"field": "g", "type": "nominal"}, "y": {"datum": 13.0, "type": "quantitative"}, "y2": {"datum": 12.75}}},
    {"data": {"values": [{}]}, "mark": {"type": "text", "fontSize": 11, "color": "black"}, "encoding": {"x": {"datum": "PBS", "type": "nominal", "bandPosition": 1}, "y": {"datum": 13.75, "type": "quantitative"}, "text": {"value": "*p=0.0286"}}}
  ]},
 {"width": 40, "height": 1, "data": {"values": [{}]}, "mark": {"type": "point", "opacity": 0}},
 {"width": 23, "height": 1, "data": {"values": [{}]}, "mark": {"type": "point", "opacity": 0}},
 {"width": 194, "height": 122,
  "title": {"text": "F", "anchor": "start", "frame": "group", "dx": -41, "offset": -18, "fontSize": 20, "fontWeight": "bold"},
  "layer": [
    {"data": {"name": "f"}, "mark": {"type": "bar", "stroke": "black", "strokeWidth": 1.5},
     "encoding": {
       "x": {"field": "virus", "type": "nominal", "scale": {"domain": ["MN","HXBc2","SF162","6535","Neg Contr. SIV"], "paddingInner": 0.18, "paddingOuter": 0.15, "range": [23, 194]}, "axis": {"title": null, "labelAngle": 0, "ticks": false, "labelPadding": 10, "labelFontSize": 11, "labelLineHeight": 13, "labelExpr": "datum.value == 'Neg Contr. SIV' ? ['Neg', 'Contr.', 'SIV'] : datum.value"}},
       "xOffset": {"field": "grp", "type": "nominal", "scale": {"domain": ["PBS","BLyS"], "paddingInner": 0.3, "paddingOuter": 0}},
       "y": {"field": "mean", "type": "quantitative", "scale": {"domain": [0, 250], "nice": false, "range": [122, 10]}, "axis": {"values": [0,50,100,150,200,250], "tickCount": 20, "format": "d", "title": "Average ID50 titers", "titlePadding": 5, "offset": -23, "labelOverlap": false, "labelBound": false}},
       "fill": {"field": "grp", "type": "nominal", "scale": {"domain": ["PBS","BLyS"], "range": ["black","white"]}, "legend": {"title": null, "orient": "none", "legendX": 169, "legendY": 7, "symbolType": "M-1,-0.55H1V0.55H-1Z", "symbolSize": 225, "symbolStrokeColor": "black", "symbolStrokeWidth": 1.5, "labelFontSize": 11, "rowPadding": 1}}
     }},
    {"data": {"name": "f"}, "mark": {"type": "rule", "color": "black", "strokeWidth": 1.5}, "encoding": {"x": {"field": "virus", "type": "nominal"}, "xOffset": {"field": "grp", "type": "nominal"}, "y": {"field": "mean", "type": "quantitative"}, "y2": {"field": "top"}}},
    {"data": {"name": "f"}, "mark": {"type": "tick", "color": "black", "size": 6, "thickness": 2, "opacity": 1, "orient": "horizontal"}, "encoding": {"x": {"field": "virus", "type": "nominal"}, "xOffset": {"field": "grp", "type": "nominal"}, "y": {"field": "top", "type": "quantitative"}}},
    {"data": {"name": "f"}, "transform": [{"filter": "datum.grp == 'PBS'"}], "mark": {"type": "tick", "color": "black", "size": 18, "thickness": 2.5, "opacity": 1, "orient": "horizontal"}, "encoding": {"x": {"field": "virus", "type": "nominal"}, "y": {"datum": -9, "type": "quantitative"}}},
    {"data": {"name": "fAnn"}, "mark": {"type": "tick", "color": "black", "size": 16, "thickness": 1.5, "opacity": 1, "orient": "horizontal"}, "encoding": {"x": {"field": "virus", "type": "nominal"}, "y": {"field": "yb", "type": "quantitative"}}},
    {"data": {"name": "fAnn"}, "mark": {"type": "rule", "color": "black", "strokeWidth": 1.5}, "encoding": {"x": {"field": "virus", "type": "nominal"}, "xOffset": {"datum": "PBS", "type": "nominal"}, "y": {"field": "yb", "type": "quantitative"}, "y2": {"field": "yl"}}},
    {"data": {"name": "fAnn"}, "mark": {"type": "rule", "color": "black", "strokeWidth": 1.5}, "encoding": {"x": {"field": "virus", "type": "nominal"}, "xOffset": {"datum": "BLyS", "type": "nominal"}, "y": {"field": "yb", "type": "quantitative"}, "y2": {"field": "yl"}}},
    {"data": {"name": "fAnn"}, "mark": {"type": "text", "color": "black", "fontSize": 11, "dx": 8}, "encoding": {"x": {"field": "virus", "type": "nominal"}, "y": {"field": "ty", "type": "quantitative"}, "text": {"field": "label"}}}
  ]},
 {"width": 13, "height": 1, "data": {"values": [{}]}, "mark": {"type": "point", "opacity": 0}},
 {"width": 36, "height": 1, "data": {"values": [{}]}, "mark": {"type": "point", "opacity": 0}}
]
}
